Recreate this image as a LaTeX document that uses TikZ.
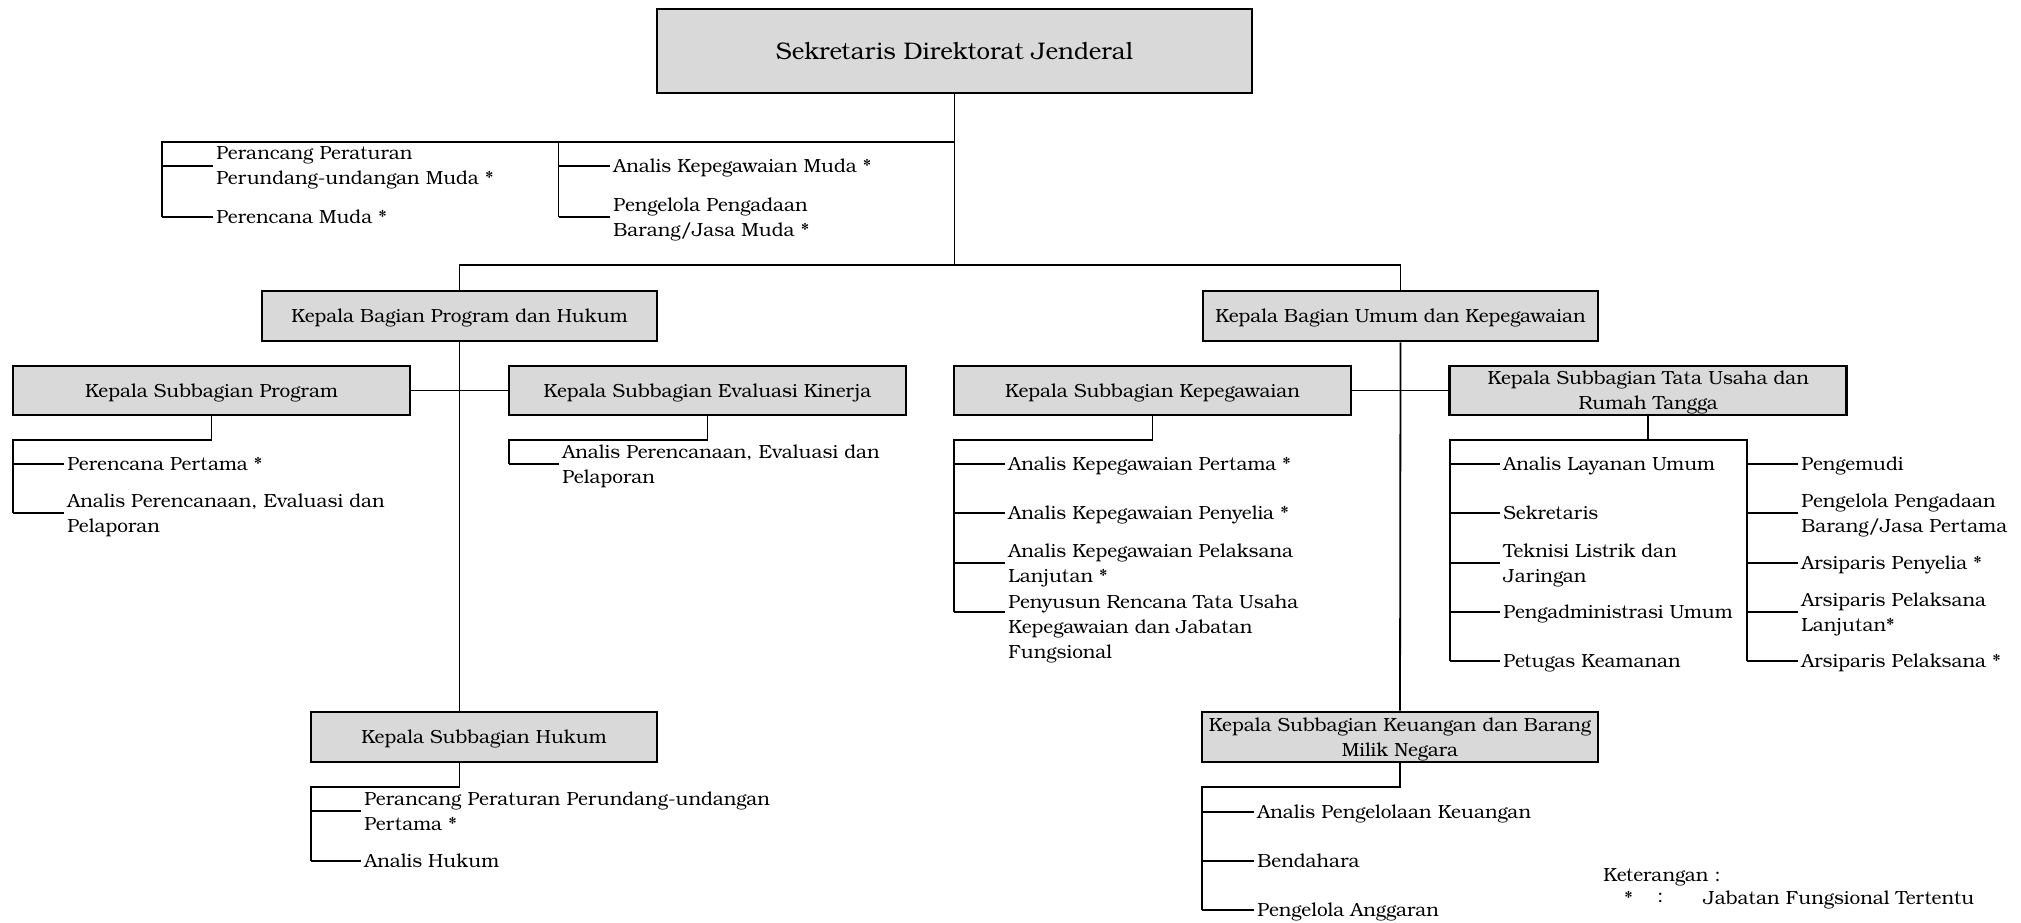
\documentclass[tikz,border=0pt]{standalone}
\usepackage{fontspec}
\setmainfont{TeX Gyre Bonum}
\definecolor{boxgray}{RGB}{217,217,217}
\newcommand\fs{\fontsize{9.5}{12.5}\selectfont}
\newcommand\fsbig{\fontsize{12}{14}\selectfont}
\tikzset{
  box/.style={draw, line width=1.4pt, fill=boxgray, inner sep=0pt, align=center, font=\fs, text depth=0pt},
  lbl/.style={anchor=west, inner sep=0pt, inner xsep=1.5pt, align=left, font=\fs, text depth=0pt},
  ln/.style={line width=0.9pt},
}
\begin{document}
\begin{tikzpicture}[x=0.5pt,y=-0.5pt]
\fill[white] (0,0) rectangle (2021,922);
\useasboundingbox (0,0) rectangle (2021,922);

% ---- boxes ----
\node[box, font=\fsbig, minimum width=297.5pt, minimum height=42pt] (top) at (954.5,51) {Sekretaris Direktorat Jenderal};
\node[box, minimum width=197.5pt, minimum height=25pt] (bph) at (459.5,316) {Kepala Bagian Program dan Hukum};
\node[box, minimum width=197.5pt, minimum height=25pt] (buk) at (1400.5,316) {Kepala Bagian Umum dan Kepegawaian};
\node[box, minimum width=198.5pt, minimum height=24.5pt] (sprog) at (211.5,390.5) {Kepala Subbagian Program};
\node[box, minimum width=198.5pt, minimum height=24.5pt] (seval) at (707.5,390.5) {Kepala Subbagian Evaluasi Kinerja};
\node[box, minimum width=198.5pt, minimum height=24.5pt] (skepeg) at (1152.5,390.5) {Kepala Subbagian Kepegawaian};
\node[box, minimum width=198.5pt, minimum height=24.5pt] (stu) at (1648.3,390.5) {Kepala Subbagian Tata Usaha dan\\Rumah Tangga};
\node[box, minimum width=173pt, minimum height=25pt] (shukum) at (484,737) {Kepala Subbagian Hukum};
\node[box, minimum width=198pt, minimum height=25pt] (skeu) at (1400,737) {Kepala Subbagian Keuangan dan Barang\\Milik Negara};

% ---- labels ----
\node[lbl] (a1) at (213,166) {Perancang Peraturan\\Perundang-undangan Muda *};
\node[lbl] (a2) at (213,217) {Perencana Muda *};
\node[lbl] (b1) at (610,166) {Analis Kepegawaian Muda *};
\node[lbl] (b2) at (610,217) {Pengelola Pengadaan\\Barang/Jasa Muda *};

\node[lbl] (p1) at (64,464) {Perencana Pertama *};
\node[lbl] (p2) at (64,513) {Analis Perencanaan, Evaluasi dan\\Pelaporan};
\node[lbl] (e1) at (559,464) {Analis Perencanaan, Evaluasi dan\\Pelaporan};
\node[lbl] (h1) at (361,811) {Perancang Peraturan Perundang-undangan\\Pertama *};
\node[lbl] (h2) at (361,861) {Analis Hukum};

\node[lbl] (k1) at (1005,464) {Analis Kepegawaian Pertama *};
\node[lbl] (k2) at (1005,513) {Analis Kepegawaian Penyelia *};
\node[lbl] (k3) at (1005,563) {Analis Kepegawaian Pelaksana\\Lanjutan *};
\node[lbl] (k4) at (1005,627) {Penyusun Rencana Tata Usaha\\Kepegawaian dan Jabatan\\Fungsional};
\coordinate (k4t) at (1005,612);

\node[lbl] (t1) at (1500,464) {Analis Layanan Umum};
\node[lbl] (t2) at (1500,513) {Sekretaris};
\node[lbl] (t3) at (1500,563) {Teknisi Listrik dan\\Jaringan};
\node[lbl] (t4) at (1500,612) {Pengadministrasi Umum};
\node[lbl] (t5) at (1500,661) {Petugas Keamanan};

\node[lbl] (r1) at (1798,464) {Pengemudi};
\node[lbl] (r2) at (1798,513) {Pengelola Pengadaan\\Barang/Jasa Pertama};
\node[lbl] (r3) at (1798,563) {Arsiparis Penyelia *};
\node[lbl] (r4) at (1798,612) {Arsiparis Pelaksana\\Lanjutan*};
\node[lbl] (r5) at (1798,661) {Arsiparis Pelaksana *};

\node[lbl] (u1) at (1254,812) {Analis Pengelolaan Keuangan};
\node[lbl] (u2) at (1254,861) {Bendahara};
\node[lbl] (u3) at (1254,910) {Pengelola Anggaran};

\node[lbl] (ket) at (1600,875) {Keterangan :};
\node[lbl] (ks) at (1621,898) {*};
\node[lbl] (kc) at (1654,898) {:};
\node[lbl] (kj) at (1700,898) {Jabatan Fungsional Tertentu};

% ---- junction coordinates ----
\coordinate (jA) at (954.5,142);
\coordinate (jB) at (954.5,265);
\coordinate (gA) at (162,142);
\coordinate (gAb) at (162,217);
\coordinate (gB) at (558.5,142);
\coordinate (gBb) at (558.5,217);
\coordinate (pv1) at (13,440);
\coordinate (pv2) at (13,513);
\coordinate (ev1) at (509,440);
\coordinate (ev2) at (509,464);
\coordinate (hv1) at (311,787);
\coordinate (hv2) at (311,861);
\coordinate (kv1) at (954,440);
\coordinate (kv2) at (954,612);
\coordinate (tl1) at (1450,440);
\coordinate (tl2) at (1450,661);
\coordinate (tr1) at (1746.6,440);
\coordinate (tr2) at (1746.6,661);
\coordinate (uv1) at (1202,787);
\coordinate (uv2) at (1202,910);

% ---- connectors ----
\begin{scope}[ln]
\draw (top.south) -- (jB);
\draw (jA) -- (gA) -- (gAb);
\draw (gB) -- (gBb);
\draw (gA |- a1.west) -- (a1.west);
\draw (gA |- a2.west) -- (a2.west);
\draw (gB |- b1.west) -- (b1.west);
\draw (gB |- b2.west) -- (b2.west);
\draw (bph.north) |- (jB);
\draw (buk.north) |- (jB);

\draw (sprog.east) -- (seval.west);
\draw (bph.south) -- (bph.south |- shukum.north);
\draw (sprog.south) |- (pv1) -- (pv2);
\draw (pv1 |- p1.west) -- (p1.west);
\draw (pv1 |- p2.west) -- (p2.west);
\draw (seval.south) |- (ev1) -- (ev2);
\draw (ev1 |- e1.west) -- (e1.west);
\draw (bph.south |- shukum.south) |- (hv1) -- (hv2);
\draw (hv1 |- h1.west) -- (h1.west);
\draw (hv1 |- h2.west) -- (h2.west);

\draw (buk.south) -- (skeu.north);
\draw (skepeg.east) -- (stu.west);
\draw (skepeg.south) |- (kv1) -- (kv2);
\draw (kv1 |- k1.west) -- (k1.west);
\draw (kv1 |- k2.west) -- (k2.west);
\draw (kv1 |- k3.west) -- (k3.west);
\draw (kv1 |- k4t) -- (k4t);

\draw (stu.south) -- (stu.south |- tl1);
\draw (tl2) -- (tl1) -- (tr1) -- (tr2);
\draw (tl1 |- t1.west) -- (t1.west);
\draw (tl1 |- t2.west) -- (t2.west);
\draw (tl1 |- t3.west) -- (t3.west);
\draw (tl1 |- t4.west) -- (t4.west);
\draw (tl1 |- t5.west) -- (t5.west);
\draw (tr1 |- r1.west) -- (r1.west);
\draw (tr1 |- r2.west) -- (r2.west);
\draw (tr1 |- r3.west) -- (r3.west);
\draw (tr1 |- r4.west) -- (r4.west);
\draw (tr1 |- r5.west) -- (r5.west);

\draw (skeu.south) |- (uv1) -- (uv2);
\draw (uv1 |- u1.west) -- (u1.west);
\draw (uv1 |- u2.west) -- (u2.west);
\draw (uv1 |- u3.west) -- (u3.west);
\end{scope}
\end{tikzpicture}
\end{document}
